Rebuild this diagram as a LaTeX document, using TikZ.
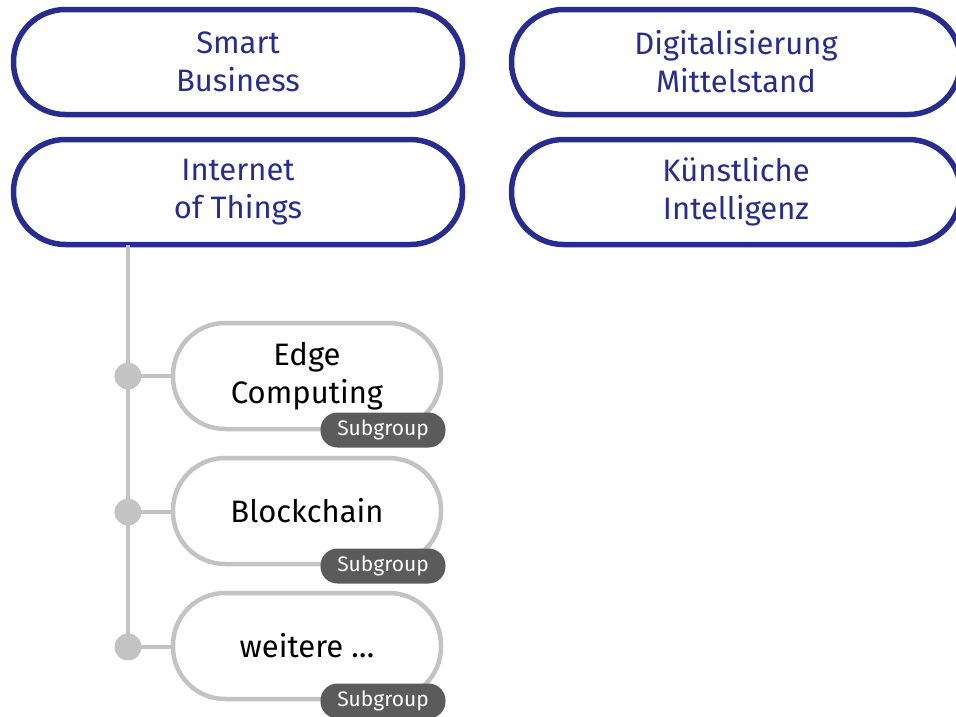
\documentclass[tikz,border=0pt]{standalone}
\usepackage{fontspec}
\setmainfont{Fira Sans}
\usepackage{xcolor}
\usetikzlibrary{positioning}
\definecolor{themeblue}{HTML}{272C8E}
\definecolor{linegray}{HTML}{C3C3C3}
\definecolor{badgegray}{HTML}{5B5B5B}

\begin{document}
\begin{tikzpicture}[x=1pt,y=-1pt,
  topic/.style={draw=themeblue, line width=5.5pt, rounded corners=52pt,
    minimum width=449pt, minimum height=105pt, inner sep=0pt,
    text=themeblue, align=center, font=\fontsize{31}{38}\selectfont},
  subtopic/.style={draw=linegray, line width=4.5pt, rounded corners=52pt,
    minimum width=268pt, minimum height=106pt, inner sep=0pt,
    fill=white, align=center, font=\fontsize{31}{38}\selectfont},
  badge/.style={fill=badgegray, rounded corners=17pt, minimum width=125pt,
    minimum height=35pt, inner sep=0pt, text=white,
    font=\fontsize{21}{22}\selectfont},
  dot/.style={circle, fill=linegray, minimum size=27pt, inner sep=0pt},
  spine/.style={draw=linegray, line width=4.5pt}]

\clip (0,0) rectangle (956,716);

% main topics
\node[topic] (smart) at (238,62) {Smart\\Business};
\node[topic] (digital) at (736,62) {Digitalisierung\\Mittelstand};
\node[topic] (iot) at (238,192) {Internet\\of Things};
\node[topic] (ki) at (736,192) {Künstliche\\Intelligenz};

% branch of iot
\coordinate (spinetop) at (128,245);
\node[dot] (d1) at (128,376) {};
\node[dot] (d2) at (128,512) {};
\node[dot] (d3) at (128,647) {};
\draw[spine] (spinetop) -- (d3.center);

\node[subtopic] (edge) at (307,376) {Edge\\Computing};
\node[subtopic] (chain) at (307,511) {Blockchain};
\node[subtopic] (more) at (307,646) {weitere \dots};

\draw[spine] (d1.center) -- (d1 -| edge.west);
\draw[spine] (d2.center) -- (d2 -| chain.west);
\draw[spine] (d3.center) -- (d3 -| more.west);

\node[badge] (b1) at (383,430) {Subgroup};
\node[badge] (b2) at (383,566) {Subgroup};
\node[badge] (b3) at (383,701) {Subgroup};

\end{tikzpicture}
\end{document}
